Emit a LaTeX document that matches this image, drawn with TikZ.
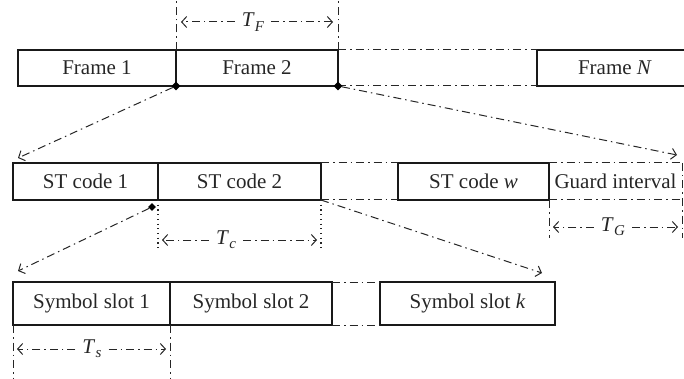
\documentclass[tikz,border=0pt]{standalone}
\usepackage{fontspec}
\setmainfont{Liberation Serif}
\usetikzlibrary{arrows.meta,shapes.geometric}
\newcommand\Tsub[1]{\textit{T}\kern0.3pt\raisebox{-0.45ex}{\fontsize{15}{15}\selectfont\textit{#1}}}
\begin{document}
\begin{tikzpicture}[x=1pt,y=-1pt,
  every node/.style={font=\fontsize{21}{23}\selectfont, text=black!85},
  cell/.style={draw=black!90, line width=1.3pt, inner sep=0pt, outer sep=0pt, anchor=north west},
  plain/.style={inner sep=0pt, outer sep=0pt, anchor=north west},
  dd/.style={line width=1pt, draw=black!85, dash pattern=on 8pt off 4pt on 1.5pt off 4pt},
  ddarrow/.style={dd, -{Straight Barb[length=5pt,width=11pt,line width=1pt]}},
  blackdot/.style={diamond, fill=black, inner sep=0pt, minimum size=9pt},
  dotv/.style={line width=1.2pt, draw=black!85, dash pattern=on 1.2pt off 3.5pt},
  tlabel/.style={inner sep=7pt},
]
\useasboundingbox (0,0) rectangle (684,379);

% ---------- Row 1: frames ----------
\node[cell, minimum width=158pt, minimum height=36pt] (f1) at (18,50) {Frame 1};
\node[cell, minimum width=162pt, minimum height=36pt] (f2) at (176,50) {Frame 2};
\node[cell, minimum width=156pt, minimum height=36pt] (fN) at (537,50) {Frame \textit{N}};
\draw[dd] (f2.north east) -- (fN.north west);
\draw[dd] (f2.south east) -- (fN.south west);

% T_F
\coordinate (tfA) at (176,0);
\coordinate (tfB) at (338,0);
\draw[dd] (f2.north west) -- (tfA);
\draw[dd] (f2.north east) -- (tfB);
\node[tlabel] (tf) at (253,22) {\Tsub{F}};
\coordinate (tfl) at (181,22);
\coordinate (tfr) at (333,22);
\draw[ddarrow] (tf.west) -- (tfl);
\draw[ddarrow] (tf.east) -- (tfr);

% expansion markers
\node[blackdot] (d1) at (f1.south east) {};
\node[blackdot] (d2) at (f2.south east) {};
\coordinate (t1) at (18,158);
\coordinate (t2) at (677,155);
\draw[ddarrow] (d1) -- (t1);
\draw[ddarrow] (d2) -- (t2);

% ---------- Row 2: ST codes ----------
\node[cell, minimum width=145pt, minimum height=37pt] (s1) at (13,163) {ST code 1};
\node[cell, minimum width=163pt, minimum height=37pt] (s2) at (158,163) {ST code 2};
\node[cell, minimum width=151pt, minimum height=37pt] (sw) at (398,163) {ST code \textit{w}};
\node[plain, minimum width=133pt, minimum height=37pt] (g) at (549,163) {Guard interval};
\draw[dd] (s2.north east) -- (sw.north west);
\draw[dd] (s2.south east) -- (sw.south west);
\draw[dd] (sw.north east) -- (g.north east);
\draw[dd] (sw.south east) -- (g.south east);
\coordinate (gr) at (682,238);
\coordinate (gl) at (549,238);
\draw[dd] (g.north east) -- (gr);
\draw[dd] (g.south west) -- (gl);

% T_G
\node[tlabel] (tg) at (613,227) {\Tsub{G}};
\coordinate (tgl) at (553,227);
\coordinate (tgr) at (678,227);
\draw[ddarrow] (tg.west) -- (tgl);
\draw[ddarrow] (tg.east) -- (tgr);

% T_c
\coordinate (c1) at (158,250);
\coordinate (c2) at (321,250);
\draw[dotv] (s1.south east) -- (c1);
\draw[dotv] (s2.south east) -- (c2);
\node[tlabel] (tc) at (226,240) {\Tsub{c}};
\coordinate (tcl) at (162,240);
\coordinate (tcr) at (317,240);
\draw[ddarrow] (tc.west) -- (tcl);
\draw[ddarrow] (tc.east) -- (tcr);

% expansion markers
\node[blackdot, minimum size=8pt] (d3) at (152,207) {};
\coordinate (t3) at (18,271);
\coordinate (t4) at (542,273);
\draw[ddarrow] (d3) -- (t3);
\draw[ddarrow] (s2.south east) -- (t4);

% ---------- Row 3: symbol slots ----------
\node[cell, minimum width=157pt, minimum height=43pt] (y1) at (13,282) {Symbol slot 1};
\node[cell, minimum width=162pt, minimum height=43pt] (y2) at (170,282) {Symbol slot 2};
\node[cell, minimum width=175pt, minimum height=43pt] (yk) at (380,282) {Symbol slot \textit{k}};
\draw[dd] (y2.north east) -- (yk.north west);
\draw[dd] (y2.south east) -- (yk.south west);

% T_s
\coordinate (sa) at (13,379);
\coordinate (sb) at (170,379);
\draw[dd] (y1.south west) -- (sa);
\draw[dd] (y1.south east) -- (sb);
\node[tlabel] (ts) at (92,349) {\Tsub{s}};
\coordinate (tsl) at (17,349);
\coordinate (tsr) at (166,349);
\draw[ddarrow] (ts.west) -- (tsl);
\draw[ddarrow] (ts.east) -- (tsr);
\end{tikzpicture}
\end{document}
